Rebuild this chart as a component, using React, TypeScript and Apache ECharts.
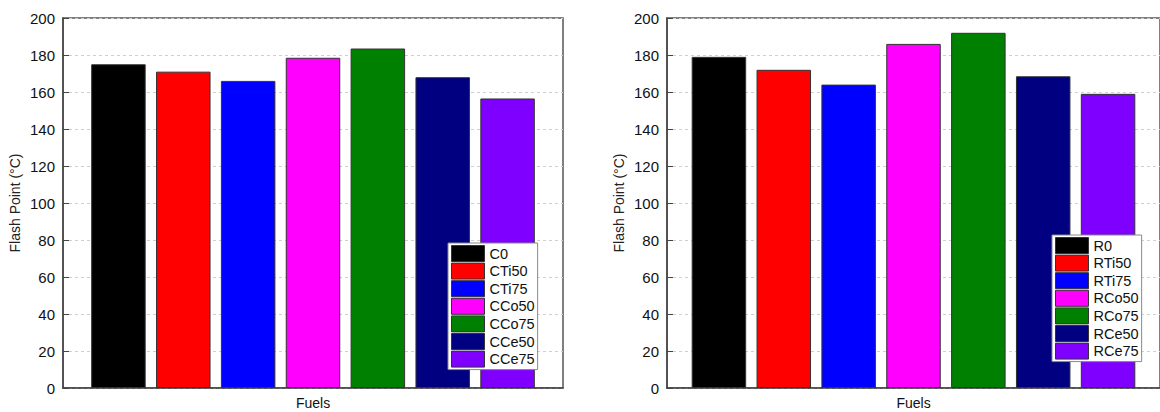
import React, { useEffect, useRef } from "react";
import * as echarts from "echarts";

const categories = ["Fuels"];
const leftNames = ["C0", "CTi50", "CTi75", "CCo50", "CCo75", "CCe50", "CCe75"];
const leftValues = [175, 171, 166, 178.5, 183.5, 168, 156.5];
const rightNames = ["R0", "RTi50", "RTi75", "RCo50", "RCo75", "RCe50", "RCe75"];
const rightValues = [179, 172, 164, 186, 192, 168.5, 159];
const colors = ["#000000", "#ff0000", "#0000ff", "#ff00ff", "#008000", "#000080", "#7f00ff"];
const yTicks = { min: 0, max: 200, interval: 20 };
const yName = "Flash Point (°C)";

export default function App() {
  const ref = useRef<HTMLDivElement>(null);
  useEffect(() => {
    if (!ref.current) return;
    const chart = echarts.init(ref.current, null, { renderer: "svg" });
    const font = "Arial, 'Liberation Sans', sans-serif";
    const grids = [
      { left: 63, top: 18, width: 500, height: 370 },
      { left: 667, top: 18, width: 501, height: 370 },
    ];
    const mkX = (i: number) => ({
      type: "category",
      gridIndex: i,
      data: categories,
      axisLine: { show: true, lineStyle: { color: "#444", width: 1.5 } },
      axisTick: { show: false },
      axisLabel: { color: "#111", fontSize: 14, fontFamily: font, margin: 8 },
    });
    const mkY = (i: number) => ({
      type: "value",
      gridIndex: i,
      min: yTicks.min,
      max: yTicks.max,
      interval: yTicks.interval,
      name: yName,
      nameLocation: "middle",
      nameGap: 41,
      nameTextStyle: { color: "#222", fontSize: 14, fontFamily: font },
      axisLine: { show: true, lineStyle: { color: "#444", width: 1.5 } },
      axisTick: { show: true, inside: true, length: 6, lineStyle: { color: "#444" } },
      axisLabel: { color: "#111", fontSize: 15, fontFamily: font, margin: 8 },
      splitLine: { show: true, lineStyle: { color: "#cfcfcf", type: [3, 3] } },
    });
    const mkSeries = (names: string[], values: number[], gi: number) =>
      names.map((n, k) => ({
        type: "bar",
        name: n,
        xAxisIndex: gi,
        yAxisIndex: gi,
        data: [values[k]],
        barWidth: 54.5,
        barGap: "19%",
        itemStyle: { color: colors[k], borderColor: "#333", borderWidth: 1 },
      }));
    const mkLegend = (names: string[], left: number, top: number) => ({
      data: names,
      orient: "vertical",
      left,
      top,
      itemWidth: 33,
      itemHeight: 16,
      itemGap: 0.6,
      padding: [2, 3, 2, 3],
      backgroundColor: "#fff",
      borderColor: "#888",
      borderWidth: 1,
      icon: "rect",
      itemStyle: { borderColor: "#333", borderWidth: 1 },
      textStyle: { color: "#111", fontSize: 14.5, fontFamily: font, lineHeight: 16 },
      selectedMode: false,
    });
    chart.setOption({
      animation: false,
      backgroundColor: "#fff",
      grid: grids.map((g) => ({ ...g, show: true, borderColor: "#555", borderWidth: 1.5 })),
      xAxis: [mkX(0), mkX(1)],
      yAxis: [mkY(0), mkY(1)],
      legend: [mkLegend(leftNames, 448, 243), mkLegend(rightNames, 1052, 235)],
      series: [...mkSeries(leftNames, leftValues, 0), ...mkSeries(rightNames, rightValues, 1)],
    });
    return () => chart.dispose();
  }, []);
  return (
    <div
      ref={ref}
      style={{ position: "fixed", left: 0, top: 0, width: 1160, height: 412, background: "#fff" }}
    />
  );
}
